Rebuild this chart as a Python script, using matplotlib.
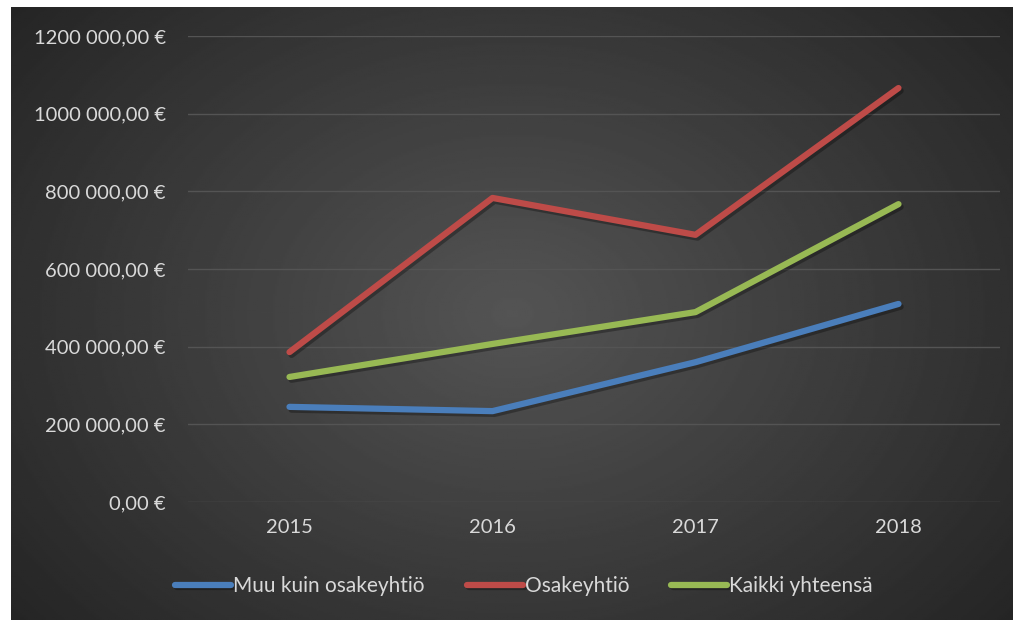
import numpy as np
import matplotlib
matplotlib.use('Agg')
import matplotlib.pyplot as plt
import matplotlib.patheffects as pe
from matplotlib.ticker import FuncFormatter

# data
years = ['2015', '2016', '2017', '2018']
muu = [245000, 234000, 360000, 510000]
osake = [386000, 783000, 688000, 1066000]
kaikki = [322000, 407000, 489000, 767000]

plt.rcParams['font.family'] = ['Lato', 'DejaVu Sans']

fig = plt.figure(figsize=(10.13, 6.2), dpi=100)
fig.patch.set_facecolor('white')

# radial gradient background (chart area box)
bg = fig.add_axes([11 / 1013, 0, 1 - 11 / 1013, 1 - 7 / 620], zorder=0)
yy, xx = np.mgrid[0:1:300j, 0:1:500j]
r = np.sqrt(((xx - 0.5) * 1.1) ** 2 + ((yy - 0.5) * 0.9) ** 2)
val = 0.33 - 0.26 * r
bg.imshow(val, cmap='gray', vmin=0, vmax=1, aspect='auto', extent=[0, 1, 0, 1])
bg.axis('off')

ax = fig.add_axes([188 / 1013, 1 - 502 / 620, (1000 - 188) / 1013, (502 - 36) / 620], zorder=1)
ax.patch.set_alpha(0)

x = np.arange(len(years))
shadow = [pe.SimpleLineShadow(offset=(1.5, -2), shadow_color='black', alpha=0.3), pe.Normal()]
series = [(muu, '#4a7ebb', 'Muu kuin osakeyhtiö'),
          (osake, '#be4b48', 'Osakeyhtiö'),
          (kaikki, '#98b954', 'Kaikki yhteensä')]
for vals, col, lab in series:
    ax.plot(x, vals, color=col, lw=4.5, solid_capstyle='round', solid_joinstyle='round',
            label=lab, path_effects=shadow)

ax.set_xlim(-0.5, 3.5)
ax.set_ylim(0, 1200000)
ax.set_yticks(np.arange(0, 1200001, 200000))
ax.yaxis.set_major_formatter(FuncFormatter(
    lambda v, p: '0,00 €' if v == 0 else '{} 000,00 €'.format(int(v // 1000))))
ax.set_xticks(x)
ax.set_xticklabels(years)
ax.grid(axis='y', color='#545454', lw=1)
ax.set_axisbelow(True)
for s in ax.spines.values():
    s.set_visible(False)
ax.tick_params(length=0, colors='#d9d9d9', labelsize=14.5, pad=16)
ax.tick_params(axis='x', pad=12)

leg = fig.legend(loc='center', bbox_to_anchor=(524 / 1013, 1 - 586 / 620), ncol=3, frameon=False,
                 fontsize=15, handlelength=2.7, handletextpad=0.1, columnspacing=2.0)
for t in leg.get_texts():
    t.set_color('#d9d9d9')

plt.savefig('out.png', dpi=100)
